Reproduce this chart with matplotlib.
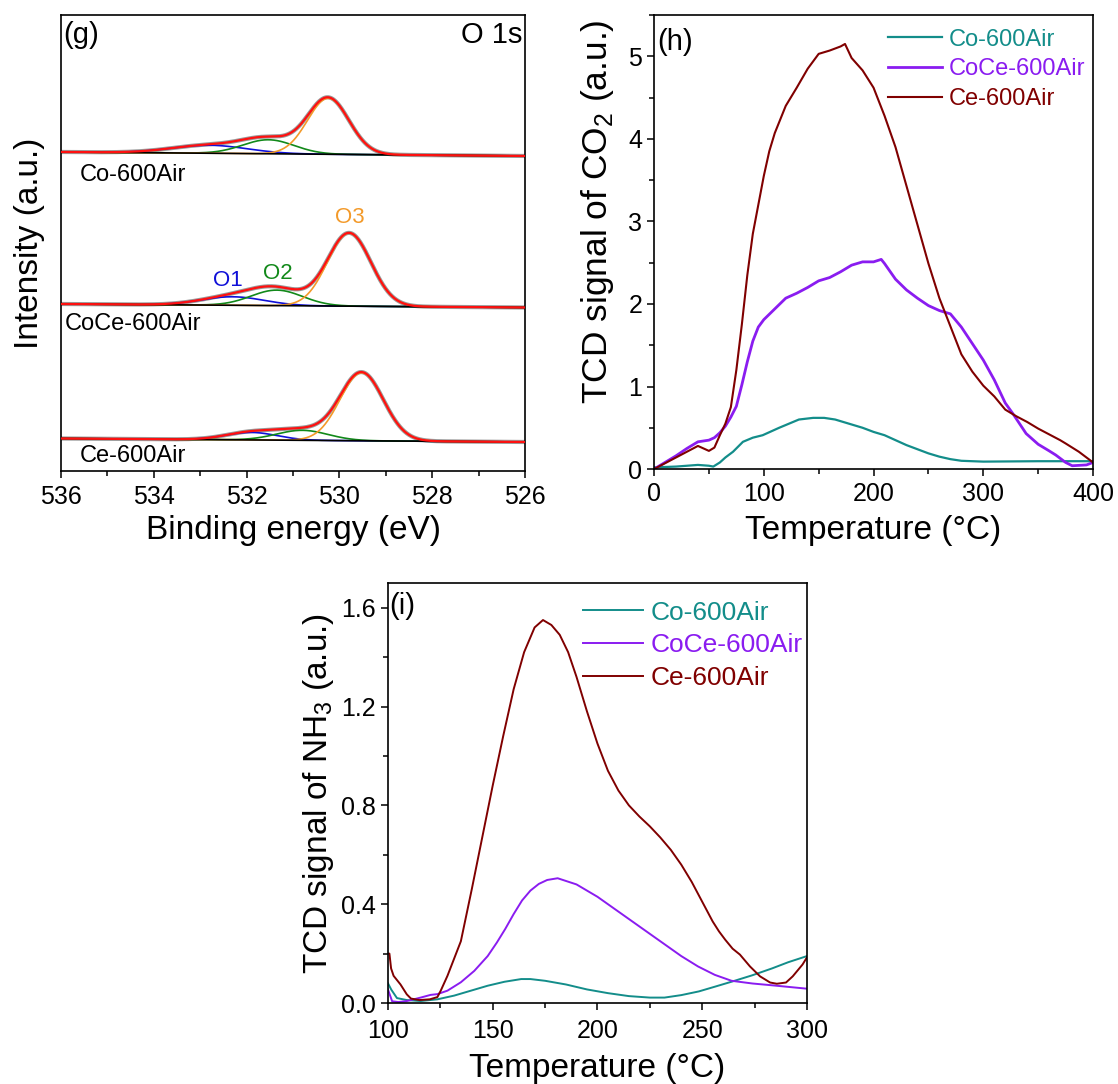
import numpy as np
import matplotlib
matplotlib.use("Agg")
import matplotlib.pyplot as plt
from matplotlib.ticker import MultipleLocator, FormatStrFormatter

plt.rcParams['font.family'] = ['Liberation Sans', 'DejaVu Sans']
plt.rcParams['mathtext.fontset'] = 'custom'
plt.rcParams['mathtext.rm'] = 'Liberation Sans'

# ---------------- panel (g): O 1s XPS fit parameters ----------------
samples_g = ["Co-600Air", "CoCe-600Air", "Ce-600Air"]
bg_left = [319.0, 167.0, 32.5]      # background at 536 eV
bg_right = [315.0, 163.5, 29.0]     # background at 526 eV
o1_center = [532.8, 532.3, 531.9]
o1_height = [8.0, 8.5, 7.5]
o1_fwhm = [1.9, 1.6, 1.3]
o2_center = [531.53, 531.35, 530.8]
o2_height = [14.0, 15.5, 10.0]
o2_fwhm = [1.3, 1.3, 1.3]
o3_center = [530.24, 529.79, 529.52]
o3_height = [56.0, 73.0, 68.0]
o3_fwhm = [1.05, 1.1, 1.1]
label_y_g = [296.0, 147.0, 15.0]
label_x_g = [535.59, 535.93, 535.59]

# ---------------- panel (h): CO2-TPD ----------------
h_ce_T = [0, 10, 20, 30, 40, 45, 50, 55, 60, 65, 70, 75, 80, 85, 90, 95, 100, 105, 110, 120,
          130, 140, 150, 160, 170, 174, 180, 190, 200, 210, 220, 230, 240, 250, 260, 270,
          280, 290, 300, 310, 320, 330, 340, 350, 360, 370, 375, 387, 400]
h_ce = [0.0, 0.07, 0.14, 0.21, 0.28, 0.25, 0.22, 0.26, 0.41, 0.55, 0.75, 1.2, 1.75, 2.35, 2.85,
        3.2, 3.55, 3.85, 4.07, 4.4, 4.62, 4.85, 5.03, 5.07, 5.12, 5.15, 4.98, 4.83, 4.62, 4.28,
        3.9, 3.43, 2.96, 2.49, 2.07, 1.73, 1.39, 1.18, 1.01, 0.88, 0.72, 0.64, 0.57, 0.49,
        0.42, 0.35, 0.31, 0.21, 0.08]
h_coce_T = [0, 10, 20, 30, 40, 45, 50, 55, 60, 65, 70, 75, 80, 85, 90, 95, 100, 110, 120, 130,
            140, 150, 160, 170, 180, 190, 200, 207, 210, 220, 230, 240, 250, 260, 270, 280,
            290, 300, 310, 320, 327, 339, 350, 360, 366, 375, 381, 394, 400]
h_coce = [0.0, 0.08, 0.16, 0.25, 0.33, 0.34, 0.35, 0.38, 0.44, 0.52, 0.63, 0.76, 1.02, 1.3,
          1.55, 1.72, 1.81, 1.94, 2.07, 2.13, 2.2, 2.28, 2.32, 2.39, 2.47, 2.51, 2.51, 2.54,
          2.49, 2.3, 2.17, 2.07, 1.98, 1.92, 1.88, 1.72, 1.52, 1.32, 1.08, 0.8, 0.67, 0.43,
          0.3, 0.22, 0.17, 0.08, 0.04, 0.05, 0.08]
h_co_T = [0, 20, 40, 50, 54, 60, 65, 72, 81, 90, 99, 114, 132, 145, 155, 165, 180, 190, 200,
          210, 220, 230, 240, 250, 260, 270, 280, 290, 300, 350, 400]
h_co = [0.02, 0.03, 0.05, 0.04, 0.03, 0.08, 0.14, 0.21, 0.33, 0.38, 0.41, 0.5, 0.6, 0.62, 0.62,
        0.6, 0.54, 0.5, 0.45, 0.41, 0.35, 0.29, 0.24, 0.19, 0.15, 0.12, 0.1, 0.095, 0.09,
        0.095, 0.095]

# ---------------- panel (i): NH3-TPD ----------------
i_ce_T = [100, 100.7, 101.5, 102.7, 106, 109, 111, 115, 120, 123.6, 125.2, 128.4, 131.6, 134.8,
          140, 145, 150, 155, 160, 165, 170, 174, 178, 182, 186, 190, 195, 200, 205, 210, 215,
          220, 225, 230, 235, 240, 245, 250, 255, 258, 261, 264.5, 268, 272.8, 277.6, 282.4,
          285.6, 290, 293.2, 297.9, 300]
i_ce = [0.2, 0.2, 0.14, 0.11, 0.075, 0.035, 0.018, 0.012, 0.015, 0.024, 0.05, 0.11, 0.18, 0.25,
        0.46, 0.67, 0.88, 1.08, 1.27, 1.42, 1.52, 1.55, 1.53, 1.49, 1.42, 1.32, 1.18, 1.05,
        0.94, 0.86, 0.8, 0.755, 0.715, 0.67, 0.62, 0.56, 0.49, 0.41, 0.33, 0.29, 0.256, 0.22,
        0.196, 0.148, 0.108, 0.083, 0.078, 0.083, 0.108, 0.156, 0.185]
i_coce_T = [100, 102, 105, 109, 115.6, 120.4, 123.6, 128.4, 134.8, 141.2, 147.6, 152, 156, 160,
            164, 168, 172, 176, 181, 190, 200, 210, 220, 230, 240, 248, 256, 264, 274, 283, 300]
i_coce = [0.055, 0.007, 0.004, 0.008, 0.022, 0.033, 0.036, 0.05, 0.084, 0.13, 0.19, 0.245, 0.30,
          0.36, 0.415, 0.455, 0.482, 0.498, 0.505, 0.48, 0.43, 0.37, 0.31, 0.25, 0.19, 0.148,
          0.114, 0.09, 0.079, 0.072, 0.058]
i_co_T = [100, 101.6, 104.3, 109, 115.6, 123.6, 131.6, 139.6, 147.6, 155.6, 163.6, 168, 175, 185,
          195, 205, 215, 225, 232, 240, 248.4, 256, 264.3, 273.8, 283.3, 291, 300]
i_co = [0.08, 0.054, 0.02, 0.012, 0.008, 0.015, 0.03, 0.05, 0.07, 0.086, 0.097, 0.097, 0.09,
        0.075, 0.055, 0.04, 0.028, 0.022, 0.022, 0.032, 0.047, 0.066, 0.087, 0.112, 0.14,
        0.165, 0.19]

legend_labels = ["Co-600Air", "CoCe-600Air", "Ce-600Air"]
c_co = "#138d8a"
c_coce = "#8a1cf0"
c_ce = "#800000"

fig = plt.figure(figsize=(11.18, 10.84), dpi=100)

TICK_FS = 18
LABEL_FS = 24


def style_axes(ax):
    for s in ax.spines.values():
        s.set_linewidth(1.2)
    ax.tick_params(which='both', direction='out', width=1.1, labelsize=TICK_FS)
    ax.tick_params(which='major', length=5)
    ax.tick_params(which='minor', length=3.5)


# ---- (g) ----
axg = fig.add_axes([0.0546, 0.5655, 0.415, 0.4207])
E = np.linspace(536, 526, 1001)


def gauss(x, c, h, w):
    s = w / 2.3548
    return h * np.exp(-0.5 * ((x - c) / s) ** 2)


for k in range(3):
    bg = np.interp(E, [526, 536], [bg_right[k], bg_left[k]])
    g1 = gauss(E, o1_center[k], o1_height[k], o1_fwhm[k])
    g2 = gauss(E, o2_center[k], o2_height[k], o2_fwhm[k])
    g3 = gauss(E, o3_center[k], o3_height[k], o3_fwhm[k])
    env = bg + g1 + g2 + g3
    axg.plot(E, env, color="#9a9a9a", lw=3.0, zorder=1)
    axg.plot(E, bg + g1, color="#1010d8", lw=1.2, zorder=2)
    axg.plot(E, bg + g2, color="#12891a", lw=1.2, zorder=2)
    axg.plot(E, bg + g3, color="#f39a2a", lw=1.2, zorder=2)
    axg.plot(E, bg, color="black", lw=1.2, zorder=3)
    axg.plot(E, env, color="#ff1010", lw=1.6, zorder=4)
    axg.text(label_x_g[k], label_y_g[k], samples_g[k], fontsize=17, ha='left', va='center')

axg.text(532.4, 190, "O1", color="#1010d8", fontsize=16, ha='center', va='center')
axg.text(531.32, 197, "O2", color="#12891a", fontsize=16, ha='center', va='center')
axg.text(529.77, 253, "O3", color="#f39a2a", fontsize=16, ha='center', va='center')
axg.text(0.005, 0.955, "(g)", transform=axg.transAxes, fontsize=21, ha='left', va='center')
axg.text(0.995, 0.955, "O 1s", transform=axg.transAxes, fontsize=21, ha='right', va='center')
axg.set_xlim(536, 526)
axg.set_ylim(0, 456)
axg.xaxis.set_major_locator(MultipleLocator(2))
axg.xaxis.set_minor_locator(MultipleLocator(1))
axg.set_yticks([])
style_axes(axg)
axg.tick_params(axis='x', pad=5)
axg.set_xlabel("Binding energy (eV)", fontsize=LABEL_FS, labelpad=4.5)
axg.set_ylabel("Intensity (a.u.)", fontsize=LABEL_FS)
axg.yaxis.set_label_coords(-0.035, 0.5)

# ---- (h) ----
axh = fig.add_axes([0.585, 0.5673, 0.3927, 0.4188])
axh.plot(h_co_T, h_co, color=c_co, lw=1.6, label=legend_labels[0])
axh.plot(h_coce_T, h_coce, color=c_coce, lw=2.0, label=legend_labels[1])
axh.plot(h_ce_T, h_ce, color=c_ce, lw=1.5, label=legend_labels[2])
axh.set_xlim(0, 400)
axh.set_ylim(0, 5.5)
axh.xaxis.set_major_locator(MultipleLocator(100))
axh.xaxis.set_minor_locator(MultipleLocator(50))
axh.yaxis.set_major_locator(MultipleLocator(1))
axh.yaxis.set_minor_locator(MultipleLocator(0.5))
style_axes(axh)
axh.tick_params(axis='x', pad=4.5)
axh.set_xlabel("Temperature (°C)", fontsize=LABEL_FS, labelpad=6.5)
axh.set_ylabel("TCD signal of CO$_2$ (a.u.)", fontsize=25.5)
axh.yaxis.set_label_coords(-0.087, 0.566)
axh.text(0.008, 0.94, "(h)", transform=axh.transAxes, fontsize=21, ha='left', va='center')
axh.legend(loc='upper left', bbox_to_anchor=(0.532, 0.970), frameon=False, fontsize=17,
           handlelength=2.3, handletextpad=0.3, labelspacing=0.33, borderpad=0,
           borderaxespad=0, labelcolor='linecolor')

# ---- (i) ----
axi = fig.add_axes([0.347, 0.0747, 0.3748, 0.3875])
axi.plot(i_co_T, i_co, color=c_co, lw=1.4, label=legend_labels[0])
axi.plot(i_coce_T, i_coce, color=c_coce, lw=1.4, label=legend_labels[1])
axi.plot(i_ce_T, i_ce, color=c_ce, lw=1.4, label=legend_labels[2])
axi.set_xlim(100, 300)
axi.set_ylim(0, 1.7)
axi.xaxis.set_major_locator(MultipleLocator(50))
axi.xaxis.set_minor_locator(MultipleLocator(25))
axi.yaxis.set_major_locator(MultipleLocator(0.4))
axi.yaxis.set_minor_locator(MultipleLocator(0.2))
axi.yaxis.set_major_formatter(FormatStrFormatter('%.1f'))
style_axes(axi)
axi.tick_params(axis='x', pad=6.5)
axi.set_xlabel("Temperature (°C)", fontsize=LABEL_FS, labelpad=7.5)
axi.set_ylabel("TCD signal of NH$_3$ (a.u.)", fontsize=LABEL_FS)
axi.text(0.004, 0.944, "(i)", transform=axi.transAxes, fontsize=21, ha='left', va='center')
axi.legend(loc='upper left', bbox_to_anchor=(0.465, 0.958), frameon=False, fontsize=19,
           handlelength=2.3, handletextpad=0.27, labelspacing=0.33, borderpad=0,
           borderaxespad=0, labelcolor='linecolor')

fig.savefig("out.png", dpi=100)
